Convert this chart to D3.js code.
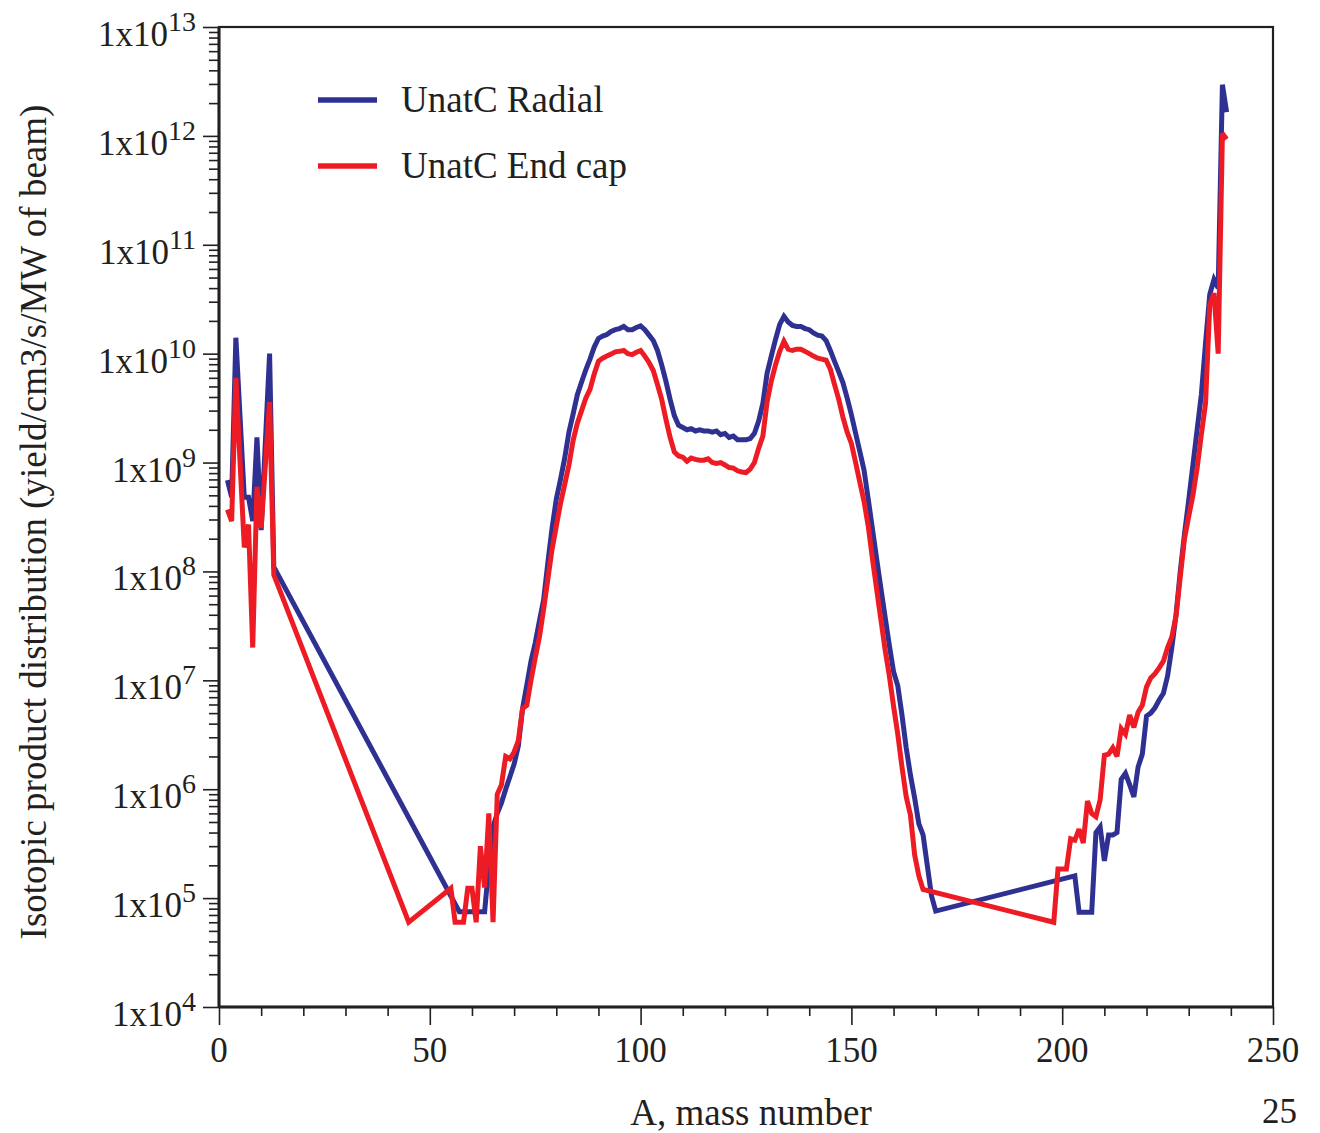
<!DOCTYPE html>
<html>
<head>
<meta charset="utf-8">
<script src="https://cdn.jsdelivr.net/npm/d3@7"></script>
<style>
  html, body { margin: 0; padding: 0; background: #fff; }
  svg text { font-family: "Liberation Serif", "Times New Roman", serif; fill: #231f20; }
</style>
</head>
<body>
<svg id="chart" width="1320" height="1133"></svg>
<script>
// ---- data (mass number A and isotopic yield) ----
const radialA = [2,3,4,6,7,8,9,10,12,13,57,58,59,60,61,62,63,64,65,66,67,68,69,70,71,72,73,74,75,76,77,78,79,80,81,82,83,84,85,86,87,88,89,90,91,92,93,94,95,96,97,98,99,100,101,102,103,104,105,106,107,108,109,110,111,112,113,114,115,116,117,118,119,120,121,122,123,124,125,126,127,128,129,130,131,132,133,134,135,136,137,138,139,140,141,142,143,144,145,146,147,148,149,150,151,152,153,154,155,156,157,158,159,160,161,162,163,164,165,166,167,168,169,170,203,204,205,206,207,208,209,210,211,212,213,214,215,216,217,218,219,220,221,222,223,224,225,226,227,228,229,230,231,232,233,234,235,236,237,238,239];
const radialY = [6.9e8,4.8e8,1.4e10,4.8e8,4.8e8,2.9e8,1.7e9,2.4e8,1.0e10,1.1e8,
  7.5e4,7.5e4,7.5e4,7.5e4,7.5e4,7.5e4,7.5e4,2.0e5,4.5e5,6.0e5,7.5e5,1.0e6,1.3e6,1.7e6,2.5e6,5.5e6,9.0e6,1.5e7,2.2e7,3.5e7,5.5e7,1.2e8,2.5e8,4.6e8,7.0e8,1.1e9,1.9e9,2.8e9,4.2e9,5.5e9,7.1e9,8.9e9,1.15e10,1.38e10,1.45e10,1.5e10,1.6e10,1.66e10,1.7e10,1.78e10,1.66e10,1.66e10,1.74e10,1.8e10,1.66e10,1.48e10,1.32e10,1.07e10,7.9e9,5.6e9,3.8e9,2.7e9,2.2e9,2.1e9,2.0e9,2.05e9,1.95e9,2.0e9,1.95e9,1.95e9,1.9e9,1.95e9,1.8e9,1.85e9,1.7e9,1.75e9,1.62e9,1.62e9,1.62e9,1.66e9,1.86e9,2.4e9,3.5e9,6.6e9,9.5e9,1.35e10,1.86e10,2.2e10,1.95e10,1.82e10,1.78e10,1.78e10,1.7e10,1.66e10,1.55e10,1.48e10,1.45e10,1.32e10,1.07e10,8.5e9,6.8e9,5.4e9,3.9e9,2.75e9,1.86e9,1.26e9,8.5e8,4.6e8,2.45e8,1.3e8,7.0e7,3.8e7,2.1e7,1.2e7,8.9e6,4.8e6,2.4e6,1.35e6,8.3e5,4.8e5,3.8e5,2.0e5,1.05e5,7.6e4,
  1.6e5,7.4e4,7.4e4,7.4e4,7.4e4,4.0e5,4.5e5,2.2e5,3.8e5,3.8e5,4.0e5,1.23e6,1.4e6,1.1e6,8.5e5,1.6e6,2.1e6,4.7e6,5.0e6,5.6e6,6.6e6,7.6e6,1.1e7,2.0e7,4.0e7,1.0e8,2.2e8,4.5e8,9.5e8,2.0e9,4.2e9,1.25e10,3.5e10,4.8e10,4.0e10,2.95e12,1.65e12];

const endcapA = [2,3,4,6,7,8,9,10,12,13,45,55,56,57,58,59,60,61,62,63,64,65,66,67,68,69,70,71,72,73,74,75,76,77,78,79,80,81,82,83,84,85,86,87,88,89,90,91,92,93,94,95,96,97,98,99,100,101,102,103,104,105,106,107,108,109,110,111,112,113,114,115,116,117,118,119,120,121,122,123,124,125,126,127,128,129,130,131,132,133,134,135,136,137,138,139,140,141,142,143,144,145,146,147,148,149,150,151,152,153,154,155,156,157,158,159,160,161,162,163,164,165,166,167,198,199,200,201,202,203,204,205,206,207,208,209,210,211,212,213,214,215,216,217,218,219,220,221,222,223,224,225,226,227,228,229,230,231,232,233,234,235,236,237,238,239];
const endcapY = [3.7e8,2.9e8,6.0e9,1.66e8,2.7e8,2.0e7,6.0e8,2.5e8,3.6e9,9.3e7,6.0e4,
  1.23e5,6.0e4,6.0e4,6.0e4,1.23e5,1.23e5,6.0e4,3.0e5,1.25e5,6.0e5,6.0e4,9.0e5,1.1e6,2.0e6,1.9e6,2.2e6,2.8e6,5.5e6,5.9e6,1.0e7,1.6e7,2.5e7,4.5e7,8.5e7,1.6e8,2.6e8,4.2e8,6.3e8,9.5e8,1.6e9,2.3e9,3.0e9,3.9e9,4.7e9,6.5e9,8.5e9,9.1e9,9.5e9,9.9e9,1.04e10,1.05e10,1.07e10,1.0e10,9.8e9,1.03e10,1.07e10,9.5e9,8.3e9,7.0e9,5.2e9,3.8e9,2.5e9,1.7e9,1.25e9,1.15e9,1.12e9,1.03e9,1.1e9,1.07e9,1.05e9,1.05e9,1.08e9,1.0e9,9.8e8,1.0e9,9.5e8,9.0e8,8.9e8,8.4e8,8.2e8,8.1e8,8.7e8,1.0e9,1.35e9,1.75e9,3.6e9,5.6e9,7.9e9,1.05e10,1.3e10,1.1e10,1.07e10,1.1e10,1.1e10,1.05e10,1.0e10,9.5e9,9.1e9,8.9e9,8.7e9,7.2e9,5.2e9,3.8e9,2.6e9,1.9e9,1.5e9,1.0e9,6.6e8,4.4e8,2.6e8,1.3e8,6.8e7,3.6e7,1.9e7,1.1e7,5.8e6,3.2e6,1.6e6,8.5e5,5.8e5,2.5e5,1.6e5,1.2e5,
  6.0e4,1.85e5,1.85e5,1.85e5,3.5e5,3.4e5,4.3e5,3.2e5,7.8e5,6.0e5,5.6e5,8.0e5,2.05e6,2.1e6,2.4e6,2.0e6,3.6e6,3.2e6,4.8e6,3.7e6,5.1e6,5.9e6,8.7e6,1.05e7,1.15e7,1.3e7,1.5e7,2.0e7,2.5e7,3.9e7,8.9e7,2.0e8,3.2e8,5.0e8,8.9e8,1.8e9,3.5e9,2.8e10,3.6e10,1.0e10,1.05e12,9.3e11];

const seriesNames = ["UnatC Radial", "UnatC End cap"];
const seriesColors = ["#2e3192", "#ed1c24"];
const xMajorTicks = [0, 50, 100, 150, 200, 250];
const xMinorTicks = [10,20,30,40,60,70,80,90,110,120,130,140,160,170,180,190,210,220,230,240];
const yExponents = [4,5,6,7,8,9,10,11,12,13];
const xTitle = "A, mass number";
const yTitle = "Isotopic product distribution (yield/cm3/s/MW of beam)";
const pageNumber = "25";

// ---- layout ----
const svg = d3.select("#chart");
const L = 219, R = 1273, T = 27, B = 1007;
const x = d3.scaleLinear().domain([0, 250]).range([L, R]);
const y = d3.scaleLog().domain([1e4, 1e13]).range([B, T]);
const ink = "#231f20";

// minor y ticks
const yMinor = [];
for (let e = 4; e < 13; e++) for (let m = 2; m <= 9; m++) yMinor.push(m * Math.pow(10, e));

const gyMinor = svg.append("g").attr("transform", `translate(${L},0)`)
  .call(d3.axisLeft(y).tickValues(yMinor).tickSize(10).tickFormat(""));
const gyMajor = svg.append("g").attr("transform", `translate(${L},0)`)
  .call(d3.axisLeft(y).tickValues(yExponents.map(e => Math.pow(10, e))).tickSize(16).tickFormat(""));
const gxMinor = svg.append("g").attr("transform", `translate(0,${B})`)
  .call(d3.axisBottom(x).tickValues(xMinorTicks).tickSize(9).tickFormat(""));
const gxMajor = svg.append("g").attr("transform", `translate(0,${B})`)
  .call(d3.axisBottom(x).tickValues(xMajorTicks).tickSize(18).tickFormat(""));
[gyMinor, gyMajor, gxMinor, gxMajor].forEach(g => {
  g.select(".domain").remove();
  g.selectAll(".tick line").attr("stroke", ink).attr("stroke-width", 1.6);
});

// y tick labels with superscripts
const yl = svg.append("g");
yExponents.forEach(e => {
  const t = yl.append("text").attr("x", 196).attr("y", y(Math.pow(10, e)) + 19)
    .attr("text-anchor", "end").style("font-size", "35px");
  t.append("tspan").text("1x10");
  t.append("tspan").attr("dy", -15).style("font-size", "28px").text(String(e));
});

// x tick labels
svg.append("g").selectAll("text").data(xMajorTicks).join("text")
  .attr("x", d => x(d)).attr("y", 1062).attr("text-anchor", "middle")
  .style("font-size", "35px").text(d => d);

// frame
svg.append("rect").attr("x", L).attr("y", T).attr("width", R - L).attr("height", B - T)
  .attr("fill", "none").attr("stroke", ink).attr("stroke-width", 2.2);
svg.append("line").attr("x1", L).attr("x2", L).attr("y1", T).attr("y2", B)
  .attr("stroke", ink).attr("stroke-width", 3);
svg.append("line").attr("x1", L).attr("x2", R).attr("y1", B).attr("y2", B)
  .attr("stroke", ink).attr("stroke-width", 3);

// lines
const line = d3.line().x(d => x(d[0])).y(d => y(d[1]));
const series = [
  radialA.map((a, i) => [a, radialY[i]]),
  endcapA.map((a, i) => [a, endcapY[i]])
];
series.forEach((s, i) => {
  svg.append("path").datum(s).attr("d", line)
    .attr("fill", "none").attr("stroke", seriesColors[i])
    .attr("stroke-width", 5).attr("stroke-linejoin", "miter").attr("stroke-miterlimit", 3);
});

// legend
seriesNames.forEach((n, i) => {
  const ly = 100 + i * 66;
  svg.append("line").attr("x1", 318).attr("x2", 377).attr("y1", ly).attr("y2", ly)
    .attr("stroke", seriesColors[i]).attr("stroke-width", 5.5);
  svg.append("text").attr("x", 401).attr("y", ly + 12).style("font-size", "37px").text(n);
});

// axis titles
svg.append("text").attr("x", 751).attr("y", 1125).attr("text-anchor", "middle")
  .style("font-size", "37px").text(xTitle);
svg.append("text").attr("transform", "translate(46,522) rotate(-90)")
  .attr("text-anchor", "middle").style("font-size", "37px").text(yTitle);
svg.append("text").attr("x", 1297).attr("y", 1123).attr("text-anchor", "end")
  .style("font-size", "35px").text(pageNumber);
</script>
</body>
</html>
